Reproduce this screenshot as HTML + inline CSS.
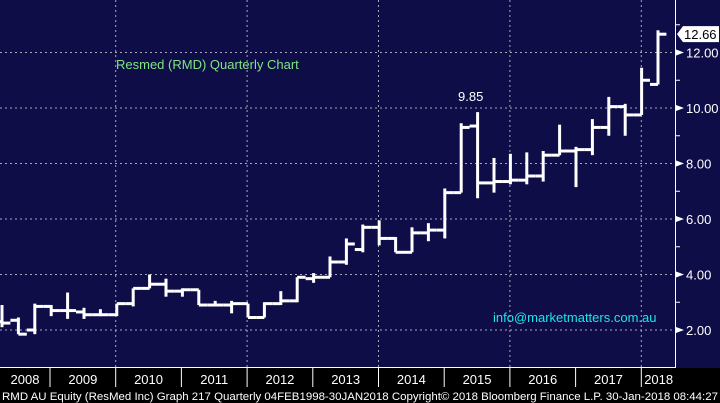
<!DOCTYPE html>
<html><head><meta charset="utf-8"><style>
html,body{margin:0;padding:0;background:#000;}
svg{display:block;font-family:"Liberation Sans",sans-serif;}
</style></head><body>
<svg id="chart" width="720" height="403" viewBox="0 0 720 403" xmlns="http://www.w3.org/2000/svg">
<rect x="0" y="0" width="720" height="368" fill="#0e0d48"/>
<rect x="0" y="368" width="720" height="20" fill="#000"/>
<g id="grid"></g>
<g id="bars"></g>
<g id="yaxis"></g>
<g id="xaxis"></g>
<text x="116" y="69" font-size="13" fill="#7ee67e">Resmed (RMD) Quarterly Chart</text>
<text x="458" y="101" font-size="13" fill="#fff">9.85</text>
<text x="493" y="322" font-size="13" fill="#18e8e8">info@marketmatters.com.au</text>
<text x="2" y="400" font-size="11.2" fill="#fff" textLength="716" lengthAdjust="spacingAndGlyphs">RMD AU Equity (ResMed Inc) Graph 217  Quarterly 04FEB1998-30JAN2018 Copyright© 2018 Bloomberg Finance L.P.  30-Jan-2018 08:44:27</text>
</svg>
<script>
const opens  = [2.3,2.35,2.0,2.85,2.7,2.65,2.55,2.55,2.95,3.5,3.65,3.4,3.45,2.9,2.9,2.95,2.45,2.95,3.05,3.85,3.9,4.45,4.9,5.7,5.3,4.8,5.5,5.6,6.95,9.35,7.3,7.35,7.4,7.55,8.3,8.45,8.5,9.3,10.05,9.75,10.85];
const highs  = [2.9,2.45,2.95,2.9,3.35,2.8,2.75,2.95,3.5,4.0,3.85,3.5,3.45,3.05,3.05,2.95,3.0,3.4,3.9,4.05,4.65,5.3,5.8,5.95,5.35,5.7,5.85,7.1,9.45,9.85,8.2,8.35,8.4,8.45,9.4,8.6,9.6,10.4,10.15,11.45,12.8];
const lows   = [2.1,1.85,1.85,2.5,2.4,2.4,2.5,2.5,2.85,3.5,3.2,3.2,2.9,2.85,2.6,2.45,2.45,2.9,3.0,3.7,3.9,4.35,4.8,5.05,4.8,4.8,5.2,5.3,6.95,6.75,6.95,7.25,7.25,7.35,8.3,7.15,8.3,9.0,9.0,9.75,10.85];
const closes = [2.25,1.85,2.85,2.7,2.7,2.55,2.55,2.95,3.5,3.65,3.4,3.45,2.9,2.9,2.95,2.45,2.95,3.05,3.9,3.9,4.45,5.1,5.7,5.3,4.8,5.5,5.6,6.95,9.3,7.3,7.35,7.4,7.55,8.3,8.45,8.5,9.3,10.05,9.75,11.0,12.66];
const yTicks = [2,4,6,8,10,12];
const yTickLabels = ["2.00","4.00","6.00","8.00","10.00","12.00"];
const years = ["2008","2009","2010","2011","2012","2013","2014","2015","2016","2017","2018"];
const lastValueLabel = "12.66";

const NS="http://www.w3.org/2000/svg";
function yScale(v){return 330-(v-2)*27.75;}
function xScale(i){return 2+i*16.4;}
function yearX(k){return 50+k*65.7;}
function mk(tag,attrs,parent){const e=document.createElementNS(NS,tag);for(const k in attrs)e.setAttribute(k,attrs[k]);parent.appendChild(e);return e;}
const grid=document.getElementById('grid'),bars=document.getElementById('bars'),ya=document.getElementById('yaxis'),xa=document.getElementById('xaxis');

yTicks.forEach((v,i)=>{
  const l=mk('line',{x1:0,x2:675,y1:yScale(v),y2:yScale(v),stroke:'#a8a8b8','stroke-width':1,'stroke-dasharray':'2,3'},grid);
  
  
  const t=mk('polygon',{points:`676,${yScale(v)-3} 684,${yScale(v)} 676,${yScale(v)+3}`,fill:'#fff'},ya);
  
  
  const tx=mk('text',{x:686,y:yScale(v)+5,'font-size':13,fill:'#fff'},ya);
  tx.textContent=yTickLabels[i];
  
  
  const m=mk('line',{x1:675,x2:680,y1:yScale(v+1),y2:yScale(v+1),stroke:'#fff','stroke-width':1},ya);
  
  
});
[1,3,5,7,9].forEach(k=>{
  const l=mk('line',{x1:yearX(k),x2:yearX(k),y1:0,y2:368,stroke:'#a8a8b8','stroke-width':1,'stroke-dasharray':'2,3'},grid);
  
  
});
const ax=mk('line',{x1:675.5,x2:675.5,y1:0,y2:368,stroke:'#fff','stroke-width':1},ya);


const bl=mk('line',{x1:0,x2:676,y1:367.5,y2:367.5,stroke:'#fff','stroke-width':1},xa);



years.forEach((y,k)=>{
  const x0=k===0?0:yearX(k-1)+0;
  const x1=yearX(k);
  const cx=k===0?25:(yearX(k-1)+Math.min(yearX(k),676))/2;
  const t=mk('text',{x:cx,y:384,'font-size':13,fill:'#fff','text-anchor':'middle'},xa);
  t.textContent=y;
  
  
  if(k<years.length-1){
    const s=mk('line',{x1:x1,x2:x1,y1:368,y2:387,stroke:'#fff','stroke-width':1},xa);
    
    
  }
});

opens.forEach((o,i)=>{
  const x=xScale(i);
  const g=mk('g',{stroke:'#fff','stroke-width':3,fill:'none'},bars);
  
  
  mk('line',{x1:x,x2:x,y1:yScale(highs[i]),y2:yScale(lows[i])},g);
  mk('line',{x1:x-8,x2:x,y1:yScale(o),y2:yScale(o)},g);
  mk('line',{x1:x,x2:x+8.4,y1:yScale(closes[i]),y2:yScale(closes[i])},g);
});

const lv=closes[closes.length-1], ly=yScale(lv);
const tag=mk('polygon',{points:`677,${ly} 683,${ly-8} 719,${ly-8} 719,${ly+8} 683,${ly+8}`,fill:'#fff'},ya);


const tt=mk('text',{x:684,y:ly+5,'font-size':13,fill:'#000'},ya);
tt.textContent=lastValueLabel;


</script>
</body></html>
